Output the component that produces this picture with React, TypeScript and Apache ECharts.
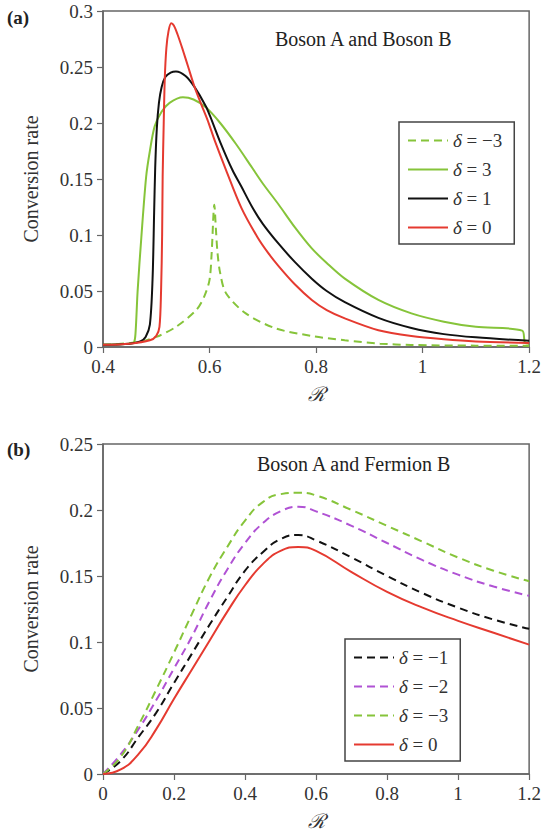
import React, { useEffect, useRef } from "react";
import * as echarts from "echarts";

// ---------- Panel (a): Boson A and Boson B ----------
const aDm3X = [0.4, 0.46, 0.5, 0.537, 0.575, 0.59, 0.6, 0.604, 0.609, 0.612, 0.615, 0.62, 0.631, 0.668, 0.724, 0.79, 0.854, 0.92, 0.978, 1.1, 1.2];
const aDm3Y = [0.002, 0.004, 0.009, 0.018, 0.033, 0.045, 0.06, 0.084, 0.127, 0.105, 0.084, 0.066, 0.048, 0.03, 0.0167, 0.01, 0.006, 0.003, 0.0018, 0.0012, 0.001];

const aD3X = [0.4, 0.45, 0.458, 0.461, 0.465, 0.472, 0.481, 0.488, 0.497, 0.51, 0.525, 0.55, 0.57, 0.593, 0.62, 0.65, 0.68, 0.7, 0.73, 0.76, 0.792, 0.82, 0.854, 0.917, 0.979, 1.04, 1.1, 1.187, 1.192, 1.2];
const aD3Y = [0.002, 0.003, 0.004, 0.012, 0.05, 0.098, 0.152, 0.175, 0.197, 0.21, 0.218, 0.223, 0.221, 0.214, 0.2, 0.181, 0.16, 0.146, 0.127, 0.107, 0.088, 0.075, 0.061, 0.042, 0.03, 0.0226, 0.018, 0.0146, 0.004, 0.003];

const aD1X = [0.4, 0.45, 0.47, 0.48, 0.488, 0.493, 0.496, 0.498, 0.501, 0.505, 0.51, 0.517, 0.527, 0.537, 0.555, 0.572, 0.593, 0.602, 0.62, 0.643, 0.66, 0.68, 0.7, 0.73, 0.76, 0.792, 0.82, 0.854, 0.917, 0.979, 1.04, 1.1, 1.2];
const aD1Y = [0.002, 0.003, 0.005, 0.009, 0.02, 0.06, 0.12, 0.16, 0.195, 0.218, 0.232, 0.241, 0.245, 0.246, 0.242, 0.232, 0.215, 0.205, 0.183, 0.158, 0.143, 0.125, 0.11, 0.092, 0.076, 0.061, 0.05, 0.04, 0.026, 0.017, 0.0115, 0.0086, 0.0055];

const aD0X = [0.4, 0.45, 0.488, 0.5, 0.506, 0.509, 0.511, 0.512, 0.514, 0.516, 0.519, 0.523, 0.528, 0.533, 0.54, 0.55, 0.56, 0.572, 0.585, 0.596, 0.61, 0.631, 0.66, 0.69, 0.71, 0.73, 0.76, 0.792, 0.82, 0.854, 0.917, 0.979, 1.04, 1.1, 1.2];
const aD0Y = [0.002, 0.003, 0.006, 0.01, 0.018, 0.05, 0.1, 0.152, 0.2, 0.24, 0.267, 0.282, 0.289, 0.287, 0.279, 0.265, 0.25, 0.232, 0.216, 0.203, 0.184, 0.158, 0.124, 0.098, 0.084, 0.072, 0.056, 0.042, 0.033, 0.0256, 0.015, 0.0098, 0.0069, 0.005, 0.0035];

// ---------- Panel (b): Boson A and Fermion B ----------
const bX = [0, 0.05, 0.1, 0.15, 0.2, 0.25, 0.3, 0.35, 0.4, 0.45, 0.5, 0.55, 0.6, 0.7, 0.8, 0.9, 1.0, 1.1, 1.2];
const bDm1 = [0, 0.01, 0.028, 0.0465, 0.069, 0.091, 0.113, 0.134, 0.154, 0.168, 0.178, 0.181, 0.177, 0.164, 0.15, 0.137, 0.126, 0.117, 0.11];
const bDm2 = [0, 0.015, 0.034, 0.056, 0.08, 0.104, 0.131, 0.155, 0.175, 0.19, 0.199, 0.2025, 0.199, 0.188, 0.175, 0.162, 0.151, 0.142, 0.135];
const bDm3 = [0, 0.013, 0.037, 0.064, 0.092, 0.121, 0.149, 0.172, 0.192, 0.206, 0.212, 0.213, 0.211, 0.2, 0.188, 0.176, 0.164, 0.154, 0.146];
const bD0 = [0, 0.0035, 0.015, 0.034, 0.057, 0.079, 0.101, 0.123, 0.143, 0.159, 0.169, 0.172, 0.169, 0.153, 0.138, 0.126, 0.116, 0.107, 0.098];

const legendA = ["a-3", "a3", "a1", "a0"];
const legendB = ["b-1", "b-2", "b-3", "b0"];
const legendText: Record<string, string> = {
  "a-3": "{d|δ} = −3",
  a3: "{d|δ} = 3",
  a1: "{d|δ} = 1",
  a0: "{d|δ} = 0",
  "b-1": "{d|δ} = −1",
  "b-2": "{d|δ} = −2",
  "b-3": "{d|δ} = −3",
  b0: "{d|δ} = 0",
};

const FONT = '"Liberation Serif", "Times New Roman", serif';
const GREEN = "#86c43a";
const RED = "#e53a30";
const BLACK = "#111111";
const PURPLE = "#b052d4";
const AXIS = "#666666";
const DASH = [8, 5];

const zip = (xs: number[], ys: number[]) => xs.map((x, i) => [x, ys[i]]);

function mkSeries(name: string, gi: number, data: number[][], color: string, dashed: boolean, smooth: number) {
  return {
    name,
    type: "line",
    xAxisIndex: gi,
    yAxisIndex: gi,
    data,
    symbol: "none",
    showSymbol: false,
    smooth,
    itemStyle: { color },
    lineStyle: { color, width: 2, type: dashed ? DASH : "solid" },
    z: 3,
  };
}

function xAxisCfg(gi: number, min: number, max: number) {
  return {
    gridIndex: gi,
    type: "value",
    min,
    max,
    interval: 0.2,
    splitLine: { show: false },
    axisLine: { show: true, onZero: false, lineStyle: { color: AXIS, width: 1.5 } },
    axisTick: { show: true, inside: false, length: 6, lineStyle: { color: AXIS, width: 1.2 } },
    axisLabel: { color: "#333", fontFamily: FONT, fontSize: 19, margin: 10 },
    name: "ℛ",
    nameLocation: "middle",
    nameGap: 37,
    nameTextStyle: { fontFamily: FONT, fontSize: 20, fontStyle: "italic", color: "#333" },
  };
}

function yAxisCfg(gi: number, max: number) {
  return {
    gridIndex: gi,
    type: "value",
    min: 0,
    max,
    interval: 0.05,
    splitLine: { show: false },
    axisLine: { show: true, onZero: false, lineStyle: { color: AXIS, width: 1.5 } },
    axisTick: { show: true, inside: false, length: 6, lineStyle: { color: AXIS, width: 1.2 } },
    axisLabel: { color: "#333", fontFamily: FONT, fontSize: 19, margin: 10 },
    name: "Conversion rate",
    nameLocation: "middle",
    nameGap: 62,
    nameTextStyle: { fontFamily: FONT, fontSize: 20, color: "#333" },
  };
}

function legendCfg(data: string[], left: number, top: number) {
  return {
    data,
    orient: "vertical",
    left,
    top,
    itemWidth: 40,
    itemHeight: 14,
    itemGap: 10,
    padding: [9, 12, 7, 8],
    borderColor: "#444",
    borderWidth: 1.5,
    backgroundColor: "#fff",
    selectedMode: false,
    itemStyle: { opacity: 0 },
    formatter: (n: string) => legendText[n],
    textStyle: {
      fontFamily: FONT,
      fontSize: 19,
      color: "#333",
      rich: { d: { fontFamily: FONT, fontSize: 19, fontStyle: "italic", color: "#333" } },
    },
  };
}

export default function App() {
  const ref = useRef<HTMLDivElement>(null);
  useEffect(() => {
    if (!ref.current) return;
    const chart = echarts.init(ref.current, undefined, { renderer: "svg" });
    chart.setOption({
      animation: false,
      backgroundColor: "#fff",
      title: [
        { text: "Boson A and Boson B", left: 275, top: 29, padding: 0, textStyle: { fontFamily: FONT, fontSize: 20, fontWeight: "normal", color: "#222" } },
        { text: "Boson A and Fermion B", left: 257, top: 454, padding: 0, textStyle: { fontFamily: FONT, fontSize: 20, fontWeight: "normal", color: "#222" } },
      ],
      graphic: [
        { type: "text", left: 7, top: 8, style: { text: "(a)", font: 'bold 19px "Liberation Serif", serif', fill: "#222" } },
        { type: "text", left: 7, top: 440, style: { text: "(b)", font: 'bold 19px "Liberation Serif", serif', fill: "#222" } },
      ],
      grid: [
        { left: 103, top: 11, width: 429, height: 336, show: true, borderColor: AXIS, borderWidth: 1.5, backgroundColor: "transparent" },
        { left: 103, top: 444, width: 429, height: 335, show: true, borderColor: AXIS, borderWidth: 1.5, backgroundColor: "transparent" },
      ],
      xAxis: [xAxisCfg(0, 0.4, 1.2), xAxisCfg(1, 0, 1.2)],
      yAxis: [yAxisCfg(0, 0.3), yAxisCfg(1, 0.25)],
      legend: [legendCfg(legendA, 399, 122), legendCfg(legendB, 345, 639)],
      series: [
        mkSeries("a-3", 0, zip(aDm3X, aDm3Y), GREEN, true, 0.3),
        mkSeries("a3", 0, zip(aD3X, aD3Y), GREEN, false, 0.3),
        mkSeries("a1", 0, zip(aD1X, aD1Y), BLACK, false, 0.3),
        mkSeries("a0", 0, zip(aD0X, aD0Y), RED, false, 0.3),
        mkSeries("b-1", 1, zip(bX, bDm1), BLACK, true, 0.5),
        mkSeries("b-2", 1, zip(bX, bDm2), PURPLE, true, 0.5),
        mkSeries("b-3", 1, zip(bX, bDm3), GREEN, true, 0.5),
        mkSeries("b0", 1, zip(bX, bD0), RED, false, 0.5),
      ],
    });
    return () => chart.dispose();
  }, []);
  return (
    <div
      ref={ref}
      style={{ position: "fixed", left: 0, top: 0, width: 544, height: 832, background: "#fff" }}
    />
  );
}
